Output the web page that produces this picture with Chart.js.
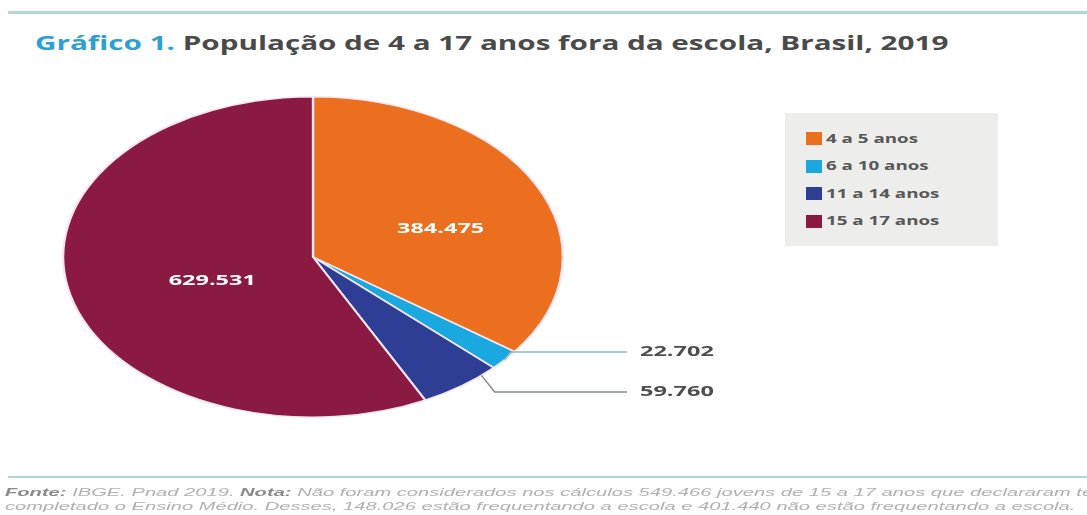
<!DOCTYPE html>
<html>
<head>
<meta charset="utf-8">
<script src="https://cdn.jsdelivr.net/npm/chart.js@4"></script>
<style>
  html, body { margin:0; padding:0; background:#fff; width:1087px; height:515px; overflow:hidden; }
  #wrap { position:relative; width:1087px; height:515px; overflow:hidden; }
  #c { position:absolute; left:0; top:0; }
  .rule { position:absolute; left:8px; right:0; background:#b3d6de; }
  #title { position:absolute; left:35px; top:29px; font-family:"Open Sans", sans-serif; font-weight:700; font-size:20px; color:#4a4a4a; white-space:nowrap; transform-origin:0 0; }
  #title .lead { color:#2d9fd3; }
  #legend { position:absolute; left:785px; top:113px; width:213px; height:133px; background:#ededeb; }
  .sw { position:absolute; left:21px; width:16px; height:13px; }
  .lt { position:absolute; left:41px; font-family:"Open Sans", sans-serif; font-weight:700; font-size:12.5px; color:#585858; white-space:nowrap; line-height:16px; transform-origin:0 50%; transform:scaleX(1.5); }
  #foot { position:absolute; left:5px; top:485px; font-family:"Liberation Sans", Arial, sans-serif; font-style:italic; font-size:11.5px; color:#b0b0b0; white-space:nowrap; line-height:14px; transform-origin:0 0; }
  #foot b { color:#8a8a8a; }
</style>
</head>
<body>
<div id="wrap">
  <div class="rule" style="top:11px;height:3px;"></div>
  <div id="title"><span class="lead">Gráfico 1.</span> População de 4 a 17 anos fora da escola, Brasil, 2019</div>
  <canvas id="c" width="1087" height="515"></canvas>
  <div id="legend"></div>
  <div class="rule" style="top:476px;height:2px;"></div>
  <div id="foot"><b>Fonte:</b> IBGE. Pnad 2019. <b>Nota:</b> Não foram considerados nos cálculos 549.466 jovens de 15 a 17 anos que declararam ter<br><span id="foot2">completado o Ensino Médio. Desses, 148.026 estão frequentando a escola e 401.440 não estão frequentando a escola.</span></div>
</div>
<script>
// ---- data ----
const categories = ["4 a 5 anos", "6 a 10 anos", "11 a 14 anos", "15 a 17 anos"];
const values = [384475, 22702, 59760, 629531];
const valueLabels = ["384.475", "22.702", "59.760", "629.531"];
const colors = ["#ec6e1f", "#19a8e0", "#2d3e94", "#8b1a42"];

// ---- style ----
const stretchX = 251 / 161;              // pie is drawn as an ellipse
const textStretch = 1.62;
const insideSlices = [0, 3];
const insideFraction = { 0: 0.54, 3: 0.43 };
const insideAngleShift = { 0: 8 * Math.PI / 180, 3: -7 * Math.PI / 180 };
const outsideSlices = [1, 2];
const outsideAnchor = { 1: 0.5, 2: 0.2 };
const outsideLabelY = { 1: 352, 2: 392 };
const lineColors = { 1: "#8fbcc6", 2: "#858b96" };

// fit stretched HTML text
const title = document.getElementById('title');
title.style.transform = 'scaleX(' + (913 / title.offsetWidth) + ')';
const foot = document.getElementById('foot');
const f2 = document.getElementById('foot2');
foot.style.transform = 'scaleX(' + (1070 / f2.offsetWidth) + ')';

// legend (HTML)
const legendEl = document.getElementById('legend');
categories.forEach((c, i) => {
  const top = 19 + i * 27.5;
  const s = document.createElement('div');
  s.className = 'sw';
  s.style.top = top + 'px';
  s.style.background = colors[i];
  legendEl.appendChild(s);
  const t = document.createElement('div');
  t.className = 'lt';
  t.style.top = (top - 1.5) + 'px';
  t.textContent = c;
  legendEl.appendChild(t);
});

function stretchedText(ctx, txt, x, y, align) {
  ctx.save();
  ctx.translate(x, y);
  ctx.scale(textStretch, 1);
  ctx.textAlign = align;
  ctx.fillText(txt, 0, 0);
  ctx.restore();
}

const ellipsePlugin = {
  id: 'ellipse',
  beforeDatasetsDraw(chart) {
    const a = chart.getDatasetMeta(0).data[0];
    const ctx = chart.ctx;
    ctx.save();
    ctx.translate(a.x, a.y);
    ctx.scale(stretchX, 1);
    ctx.translate(-a.x, -a.y);
  },
  afterDatasetsDraw(chart) {
    const ctx = chart.ctx;
    ctx.restore();
    const arcs = chart.getDatasetMeta(0).data;
    ctx.save();
    ctx.font = "700 14.5px 'Open Sans', sans-serif";
    ctx.fillStyle = "#ffffff";
    ctx.textBaseline = "middle";
    insideSlices.forEach(i => {
      const a = arcs[i];
      const mid = (a.startAngle + a.endAngle) / 2 + insideAngleShift[i];
      const f = insideFraction[i];
      const x = a.x + Math.cos(mid) * a.outerRadius * f * stretchX;
      const y = a.y + Math.sin(mid) * a.outerRadius * f;
      stretchedText(ctx, valueLabels[i], x, y, "center");
    });
    outsideSlices.forEach(i => {
      const a = arcs[i];
      const ang = a.startAngle + (a.endAngle - a.startAngle) * outsideAnchor[i];
      const ex = a.x + Math.cos(ang) * a.outerRadius * stretchX;
      const ey = a.y + Math.sin(ang) * a.outerRadius;
      const ly = outsideLabelY[i];
      const elbowX = ex + Math.abs(ly - ey) * 0.8;
      ctx.strokeStyle = lineColors[i];
      ctx.lineWidth = 1.5;
      ctx.beginPath();
      ctx.moveTo(ex, ey);
      ctx.lineTo(elbowX, ly);
      ctx.lineTo(627, ly);
      ctx.stroke();
      ctx.font = "700 14.5px 'Open Sans', sans-serif";
      ctx.fillStyle = "#4d4d4d";
      stretchedText(ctx, valueLabels[i], 640, ly, "left");
    });
    ctx.restore();
  }
};

new Chart(document.getElementById('c'), {
  type: 'pie',
  data: {
    labels: categories,
    datasets: [{
      data: values,
      backgroundColor: colors,
      borderColor: "#f4e6ee",
      borderWidth: 1.5
    }]
  },
  options: {
    responsive: false,
    animation: false,
    events: [],
    layout: { padding: { top: 96, bottom: 97, left: 152, right: 613 } },
    plugins: { legend: { display: false }, tooltip: { enabled: false } }
  },
  plugins: [ellipsePlugin]
});
</script>
</body>
</html>
